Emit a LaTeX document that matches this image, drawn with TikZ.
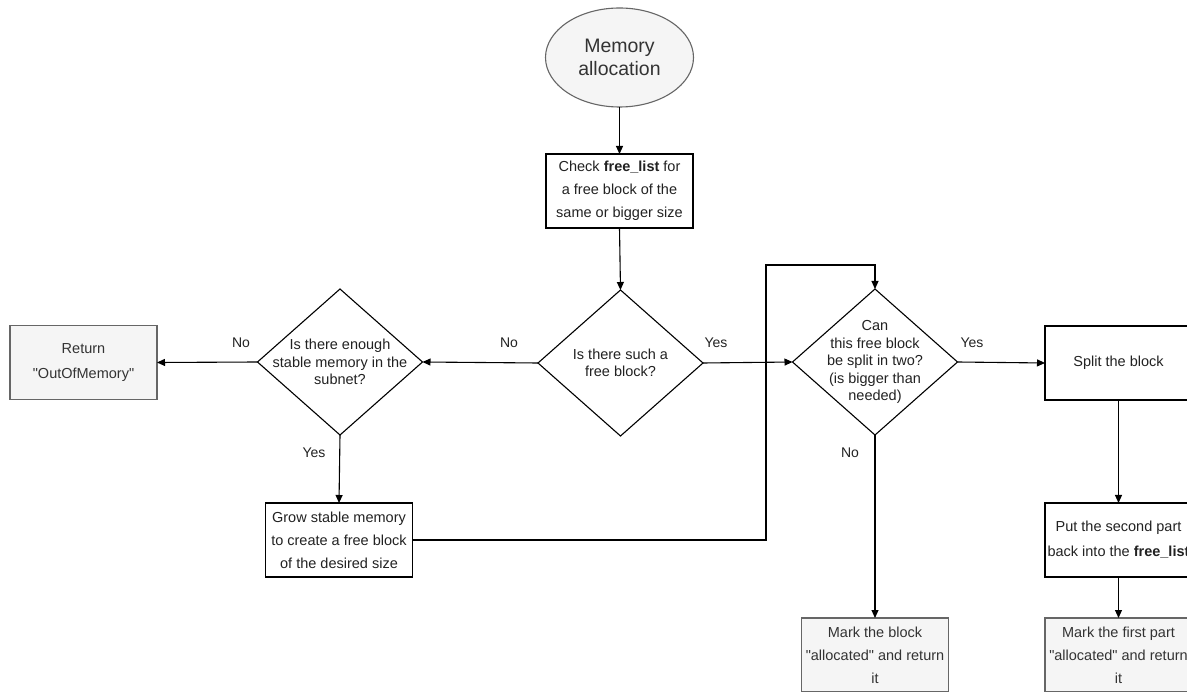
\documentclass[tikz,border=0pt]{standalone}
\usepackage{fontspec}
\setmainfont{Liberation Sans}
\newfontfamily\plainqfont{Liberation Sans}
\usetikzlibrary{shapes.geometric,arrows.meta}
\definecolor{grayfill}{HTML}{F5F5F5}
\definecolor{grayline}{HTML}{666666}
\definecolor{txtdark}{HTML}{222222}
\definecolor{txtgray}{HTML}{333333}
\newcommand{\qq}{{\plainqfont\symbol{34}}}
\tikzset{
  x=1pt, y=-1pt,
  every node/.style={inner sep=0pt, outer sep=0pt},
  boxfont/.style={font=\fontsize{14.5}{23}\selectfont, align=center},
  diafont/.style={font=\fontsize{14.5}{17.5}\selectfont, align=center, text=txtdark},
  plainbox/.style={rectangle, draw=black, line width=1.1pt, fill=white, minimum width=147pt, minimum height=74pt, boxfont, text=txtdark},
  graybox/.style={rectangle, draw=grayline, line width=1.1pt, fill=grayfill, minimum width=147pt, minimum height=74pt, boxfont, text=txtgray},
  decision/.style={diamond, draw=black, line width=1.1pt, fill=white, minimum width=165pt, minimum height=146pt},
  conn/.style={draw=black, line width=1.1pt, -{Triangle[length=8pt,width=7pt]}},
  lbl/.style={font=\fontsize{14}{16}\selectfont, text=txtdark}
}
\begin{document}
\begin{tikzpicture}
\useasboundingbox (0,0) rectangle (1187,692);
\clip (0,0) rectangle (1187,692);
\fill[white] (0,0) rectangle (1187,692);

% nodes
\node[ellipse, draw=grayline, line width=1.1pt, fill=grayfill, minimum width=148pt, minimum height=99pt,
      font=\fontsize{19.5}{23}\selectfont, align=center, text=txtgray] (start) at (619.5,57.5) {Memory\\allocation};
\node[plainbox] (check) at (619.5,191) {Check \textbf{free\_list} for\\a free block of the\\same or bigger size};

\node[decision] (d1) at (620.5,363) {};
\node[diafont] (d1t) at (d1.center) {Is there such a\\free block?};

\node[decision] (d2) at (340,362) {};
\node[diafont] (d2t) at (d2.center) {Is there enough\\stable memory in the\\subnet?};

\node[graybox] (ret) at (83.5,362.5) {Return\\[2pt]\qq OutOfMemory\qq};
\node[plainbox] (grow) at (339,540) {Grow stable memory\\to create a free block\\of the desired size};

\node[decision] (d3) at (875,362) {};
\node[diafont] (d3t) at (d3.center) {Can\\this free block\\be split in two?\\(is bigger than\\needed)};

\node[plainbox] (split) at (1118.5,363) {Split the block};
\node[plainbox, font=\fontsize{14.5}{25}\selectfont] (put) at (1118.5,540) {Put the second part\\back into the \textbf{free\_list}};
\node[graybox] (mark1) at (875,655) {Mark the block\\\qq allocated\qq{} and return\\it};
\node[graybox] (mark2) at (1118.5,655) {Mark the first part\\\qq allocated\qq{} and return\\it};

\coordinate (j1) at (766,265);

% connectors
\draw[conn] (start.south) -- (check.north);
\draw[conn] (check.south) -- (d1.north);
\draw[conn] (d1.west) -- (d2.east);
\draw[conn] (d2.west) -- (ret.east);
\draw[conn] (d2.south) -- (grow.north);
\draw[conn] (grow.east) -| (j1) -| (d3.north);
\draw[conn] (d1.east) -- (d3.west);
\draw[conn] (d3.east) -- (split.west);
\draw[conn] (d3.south) -- (mark1.north);
\draw[conn] (split.south) -- (put.north);
\draw[conn] (put.south) -- (mark2.north);

% labels
\node[lbl] (lno1) at (509,343) {No};
\node[lbl] (lno2) at (241,343) {No};
\node[lbl] (lyes1) at (314,453) {Yes};
\node[lbl] (lyes2) at (716,343) {Yes};
\node[lbl] (lyes3) at (972,343) {Yes};
\node[lbl] (lno3) at (850,453) {No};
\end{tikzpicture}
\end{document}
